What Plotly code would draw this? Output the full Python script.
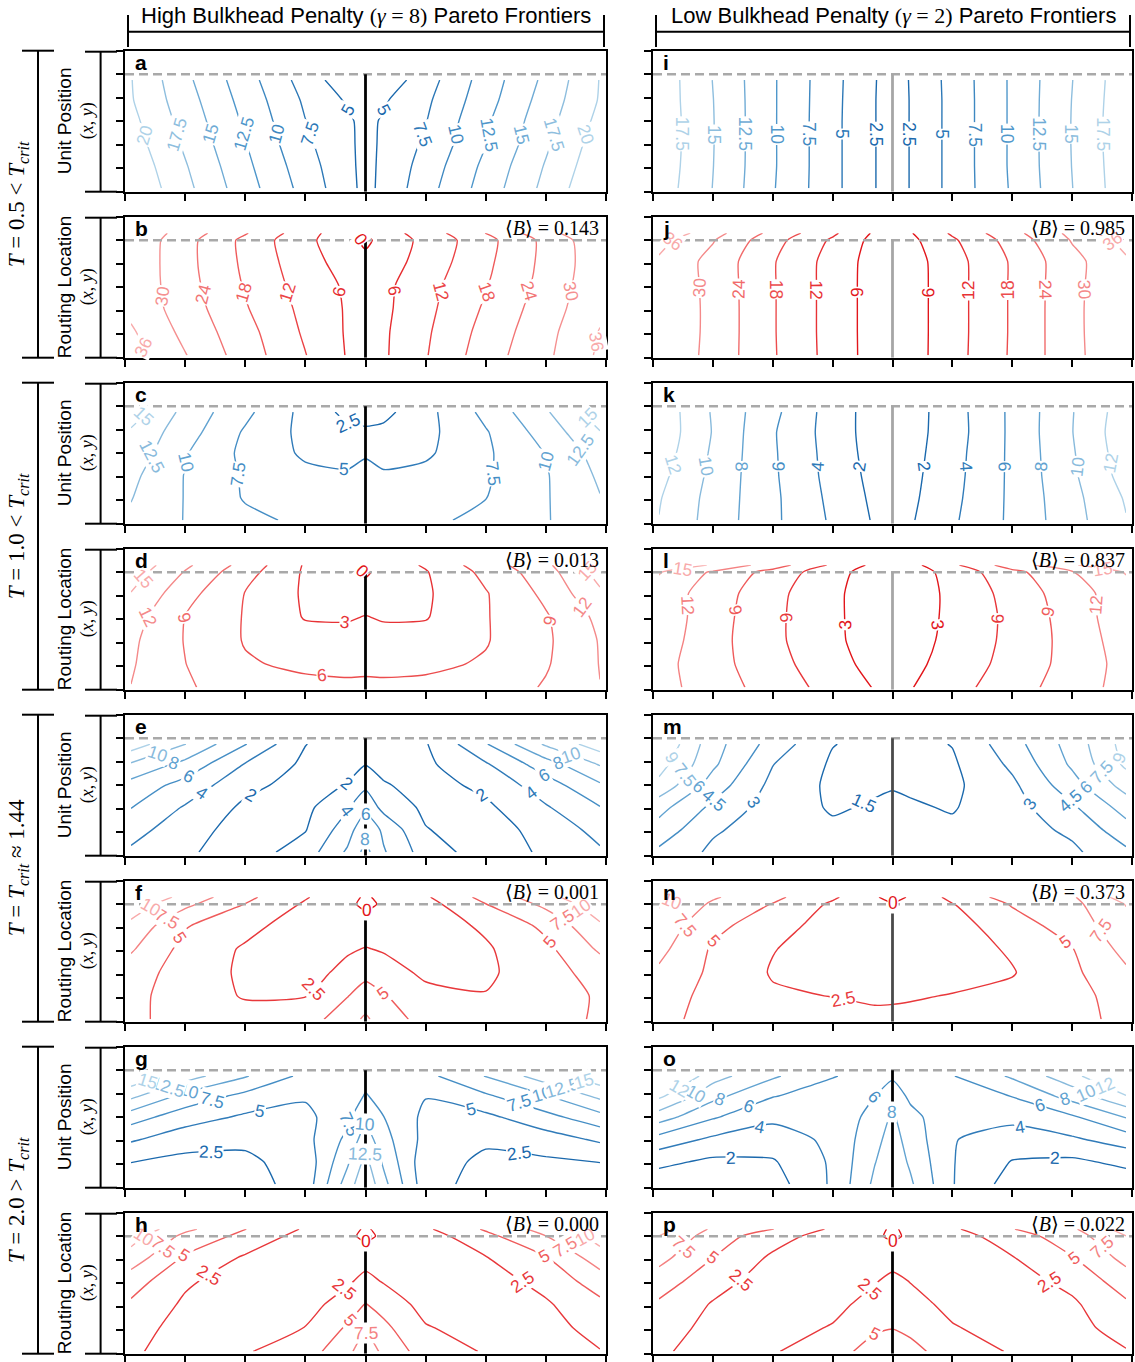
import math
import plotly.graph_objects as go

W, H = 1135, 1362

# ---------------- data ----------------
X = [-3.9, -3.0, -2.0, -1.0, -0.3, 0.0, 0.3, 1.0, 2.0, 3.0, 3.9]
Y_UNIT = [0.15, 1.1, 2.05, 3.0, 3.9, 4.75]
Y_ROUTE = [0.1, 1.1, 2.1, 3.1, 4.1, 5.0, 5.3]

Z_A = [[22.3, 18.2, 13.6, 9.1, 5.8, 4.3, 5.6, 9.0, 13.6, 18.2, 22.4],
       [21.8, 17.7, 13.1, 8.6, 5.6, 4.3, 5.5, 8.5, 13.1, 17.7, 21.8],
       [21.2, 17.1, 12.6, 8.0, 5.5, 4.3, 5.4, 7.9, 12.4, 17.1, 21.3],
       [20.7, 16.6, 12.1, 7.55, 5.4, 4.3, 5.3, 7.4, 12.1, 16.6, 20.7],
       [20.2, 16.1, 11.6, 7.1, 4.7, 4.0, 4.7, 7.0, 11.5, 16.1, 20.2],
       [20.1, 15.6, 11.1, 6.4, 3.4, 3.2, 3.3, 6.4, 11.1, 15.6, 20.1]]
Z_B = [[38.5, 30.3, 21.1, 12.2, 5.6, 3.0, 5.2, 11.6, 21.2, 28.8, 37.0],
       [36.8, 28.4, 20.1, 11.1, 5.4, 3.0, 5.1, 11.1, 20.1, 28.1, 36.3],
       [34.5, 27.1, 18.5, 10.3, 5.4, 3.0, 4.7, 10.4, 18.8, 27.1, 34.7],
       [34.5, 26.3, 17.5, 9.3, 5.1, 3.0, 4.5, 9.8, 17.6, 26.1, 34.1],
       [34.7, 25.9, 16.8, 8.2, 3.6, 2.0, 3.1, 8.3, 16.7, 25.6, 33.7],
       [34.8, 26.1, 16.5, 7.3, 2.5, -1.5, 2.5, 7.5, 16.1, 25.6, 34.4],
       [35.5, 27.3, 18.5, 8.4, 2.1, 1.0, 3.2, 8.8, 18.1, 28.1, 35.5]]
Z_C = [[12.1, 9.9, 8.1, 7.0, 6.4, 6.6, 6.4, 7.0, 8.1, 9.8, 12.1],
       [12.6, 9.9, 7.3, 6.5, 5.9, 6.2, 5.9, 6.5, 7.45, 9.8, 12.4],
       [13.1, 9.9, 7.2, 5.6, 5.3, 5.6, 5.3, 5.7, 7.2, 9.8, 12.9],
       [14.1, 10.2, 6.9, 4.6, 4.2, 4.8, 4.2, 4.6, 7.1, 10.1, 13.6],
       [14.6, 11.1, 7.2, 4.3, 3.1, 2.9, 3.1, 4.3, 7.3, 11.1, 14.9],
       [16.5, 11.7, 8.1, 4.2, 1.8, 1.5, 1.8, 4.2, 8.2, 12.2, 16.5]]
Z_D = [[11.95, 9.45, 7.1, 6.8, 6.5, 6.6, 6.5, 6.7, 7.1, 9.3, 11.95],
       [12.3, 9.05, 6.3, 5.4, 5.3, 5.3, 5.3, 5.4, 6.3, 8.7, 12.1],
       [12.6, 8.85, 5.8, 4.1, 4.1, 4.2, 4.1, 4.1, 5.8, 8.5, 12.2],
       [13.4, 8.95, 5.8, 2.8, 2.7, 3.1, 2.7, 2.8, 5.8, 8.7, 12.8],
       [14.9, 10.1, 5.9, 2.6, 1.5, 1.5, 1.5, 2.6, 5.8, 9.7, 14.5],
       [16.5, 11.8, 7.1, 2.6, 1.2, -0.5, 1.2, 2.8, 6.8, 10.7, 16.2],
       [17.1, 12.6, 7.9, 2.7, 1.5, 0.8, 1.5, 3.3, 7.6, 11.3, 17.1]]
Z_E = [[3.7, 2.3, 1.0, 2.95, 6.3, 8.6, 6.2, 3.05, 1.0, 2.3, 3.75],
       [4.7, 2.9, 1.1, 1.9, 5.1, 7.6, 5.6, 2.1, 1.0, 2.8, 4.6],
       [6.05, 3.8, 1.6, 1.5, 3.8, 5.4, 3.4, 1.6, 1.6, 3.8, 5.9],
       [7.25, 5.3, 2.55, 1.2, 2.1, 3.6, 2.2, 1.2, 2.5, 5.1, 7.7],
       [9.8, 7.4, 3.9, 1.6, 1.3, 1.9, 1.3, 1.6, 3.8, 7.1, 10.2],
       [13.1, 10.05, 6.1, 2.05, 1.0, 1.0, 1.0, 1.85, 5.85, 10.3, 13.1]]
Z_F = [[5.5, 4.1, 3.5, 3.8, 6.5, 7.9, 6.3, 4.1, 3.6, 4.1, 5.3],
       [5.7, 3.8, 2.3, 2.4, 4.9, 6.1, 5.2, 3.1, 2.6, 3.8, 5.3],
       [6.3, 3.8, 2.1, 1.5, 3.2, 4.3, 3.4, 2.1, 2.1, 3.9, 6.1],
       [7.8, 4.2, 2.2, 1.2, 2.2, 2.6, 2.3, 1.5, 2.2, 4.4, 7.9],
       [9.4, 5.2, 3.3, 1.2, 1.5, 1.2, 1.5, 1.3, 2.9, 5.6, 9.7],
       [11.5, 8.1, 4.95, 2.2, 0.5, -0.5, 0.3, 1.6, 4.95, 8.1, 11.5],
       [12.5, 9.2, 5.6, 2.7, 0.8, -0.3, 0.6, 2.2, 5.8, 9.1, 12.5]]
Z_G = [[1.2, 1.3, 1.5, 3.5, 11.2, 14.5, 10.8, 3.5, 1.5, 1.3, 1.2],
       [2.55, 1.8, 2.1, 3.4, 9.6, 13.2, 9.6, 3.4, 2.1, 2.1, 2.55],
       [5.3, 3.6, 2.9, 4.2, 8.1, 11.3, 8.4, 4.2, 2.8, 3.8, 5.4],
       [8.6, 6.1, 4.6, 4.3, 6.9, 9.45, 7.55, 4.4, 4.4, 6.7, 9.1],
       [13.1, 9.2, 6.8, 5.3, 6.1, 7.7, 6.6, 5.1, 7.1, 9.8, 13.1],
       [17.0, 13.7, 10.2, 6.8, 5.8, 6.6, 6.1, 6.8, 10.1, 13.9, 16.6]]
Z_H = [[2.9, 1.3, 2.3, 3.8, 6.8, 9.1, 6.9, 3.8, 2.3, 1.3, 2.4],
       [3.6, 1.5, 1.4, 2.55, 5.3, 7.1, 5.6, 2.7, 1.4, 1.6, 3.4],
       [4.6, 2.1, 1.1, 1.5, 3.7, 5.1, 4.1, 1.6, 1.1, 2.2, 4.4],
       [6.2, 2.9, 1.2, 1.1, 2.1, 3.2, 2.3, 1.1, 1.4, 3.3, 6.3],
       [8.9, 4.7, 2.2, 0.8, 1.2, 1.5, 1.2, 0.8, 2.4, 4.9, 8.8],
       [11.1, 6.8, 4.3, 1.5, 0.5, -0.5, 0.4, 1.3, 4.3, 7.45, 11.1],
       [12.1, 8.1, 5.05, 2.2, 0.6, -0.2, 0.5, 2.1, 5.3, 8.5, 12.1]]
Z_I = [[18.9, 14.95, 10.2, 5.7, 2.6, 1.3, 2.6, 5.8, 10.3, 14.95, 19.1],
       [19.1, 15.05, 10.3, 5.7, 2.6, 1.3, 2.6, 5.8, 10.4, 15.05, 19.2],
       [19.2, 15.1, 10.3, 5.7, 2.6, 1.3, 2.6, 5.8, 10.4, 15.1, 19.3],
       [19.2, 15.1, 10.3, 5.7, 2.6, 1.3, 2.6, 5.8, 10.4, 15.1, 19.3],
       [19.1, 15.05, 10.3, 5.75, 2.6, 1.3, 2.6, 5.8, 10.4, 15.05, 19.2],
       [19.1, 14.95, 10.3, 5.8, 2.65, 1.3, 2.65, 5.85, 10.4, 14.95, 19.1]]
Z_J = [[35.3, 28.1, 18.6, 9.7, 3.5, 1.5, 3.4, 9.6, 18.8, 28.3, 35.3],
       [35.5, 28.3, 18.5, 9.6, 3.5, 1.5, 3.4, 9.5, 18.7, 28.4, 35.5],
       [35.6, 28.3, 18.5, 9.6, 3.5, 1.5, 3.4, 9.5, 18.7, 28.4, 35.6],
       [35.4, 28.2, 18.5, 9.6, 3.5, 1.5, 3.4, 9.5, 18.7, 28.3, 35.4],
       [35.1, 28.1, 18.5, 9.7, 3.6, 1.5, 3.5, 9.6, 18.7, 28.2, 35.1],
       [38.1, 30.4, 20.2, 11.1, 4.3, 1.5, 4.6, 11.1, 20.4, 30.4, 38.1],
       [41.1, 32.3, 22.3, 13.1, 5.2, 2.5, 5.6, 12.8, 22.1, 31.6, 41.7]]
Z_K = [[11.95, 9.2, 6.4, 3.7, 1.8, 0.6, 1.8, 3.7, 6.4, 9.25, 11.9],
       [12.15, 9.3, 6.4, 3.5, 1.6, 0.6, 1.6, 3.5, 6.4, 9.4, 12.2],
       [12.6, 9.5, 6.3, 3.3, 1.4, 0.6, 1.45, 3.35, 6.4, 9.65, 12.8],
       [13.1, 9.7, 6.25, 3.2, 1.2, 0.6, 1.3, 3.25, 6.4, 9.8, 13.1],
       [13.4, 9.9, 6.2, 3.1, 1.1, 0.6, 1.2, 3.1, 6.4, 9.95, 13.3],
       [13.4, 9.8, 6.5, 3.1, 1.1, 0.6, 1.1, 3.15, 6.4, 9.9, 13.1]]
Z_L = [[13.1, 10.5, 7.7, 4.9, 2.85, 2.1, 2.85, 4.9, 7.7, 10.5, 13.1],
       [13.05, 10.1, 7.1, 4.1, 2.05, 1.2, 2.2, 4.2, 7.05, 10.1, 13.05],
       [13.6, 10.1, 6.7, 3.65, 1.6, 0.8, 1.8, 3.8, 6.8, 10.1, 13.5],
       [13.9, 10.3, 6.7, 3.6, 1.5, 0.7, 1.6, 3.65, 6.75, 10.35, 13.9],
       [13.7, 10.6, 6.9, 3.6, 1.5, 0.7, 1.5, 3.65, 7.1, 10.7, 13.7],
       [15.2, 11.6, 7.9, 4.1, 1.6, 0.7, 1.5, 4.1, 8.1, 11.8, 15.2],
       [18.1, 14.6, 10.5, 5.5, 2.3, 1.1, 2.1, 5.4, 10.5, 14.6, 18.1]]
Z_M = [[4.2, 2.7, 2.2, 1.95, 1.95, 2.1, 1.95, 1.95, 2.2, 2.7, 4.2],
       [5.4, 3.2, 2.2, 1.75, 1.8, 2.1, 1.8, 1.75, 2.3, 3.3, 5.4],
       [6.5, 4.15, 2.3, 1.35, 1.65, 1.8, 1.65, 1.4, 2.4, 4.25, 6.6],
       [8.6, 5.3, 2.6, 1.2, 1.3, 1.4, 1.3, 1.2, 2.7, 5.4, 8.1],
       [9.6, 6.3, 3.05, 1.3, 1.1, 1.1, 1.1, 1.3, 3.3, 6.25, 9.3],
       [10.5, 6.6, 3.9, 1.55, 1.1, 1.1, 1.1, 1.55, 3.9, 6.6, 9.6]]
Z_N = [[5.6, 4.3, 3.8, 3.6, 3.1, 3.2, 3.1, 3.6, 3.8, 4.3, 5.6],
       [6.1, 4.3, 2.8, 2.45, 2.1, 2.1, 2.3, 2.6, 3.1, 4.3, 5.9],
       [7.1, 4.5, 2.3, 1.7, 1.5, 1.5, 1.5, 1.7, 2.35, 4.5, 7.1],
       [8.2, 4.7, 2.6, 1.4, 1.2, 1.2, 1.2, 1.4, 2.8, 4.9, 8.3],
       [9.1, 5.7, 3.6, 1.4, 1.1, 0.9, 1.1, 1.5, 3.9, 6.1, 9.2],
       [10.2, 7.1, 4.9, 2.1, 0.7, 0.3, 0.7, 2.4, 5.2, 6.8, 10.1],
       [11.5, 7.8, 5.6, 2.9, 0.4, -1.2, 0.4, 3.2, 6.1, 7.2, 11.2]]
Z_O = [[0.8, 1.1, 1.1, 4.3, 8.4, 9.5, 8.3, 4.1, 1.1, 1.1, 0.8],
       [2.5, 1.6, 1.8, 4.3, 7.9, 9.2, 7.7, 4.1, 1.9, 1.6, 2.5],
       [5.2, 3.6, 3.1, 4.4, 7.4, 8.8, 7.2, 4.1, 3.1, 3.7, 4.9],
       [8.9, 6.2, 4.4, 4.6, 6.7, 8.3, 6.6, 4.6, 4.5, 5.7, 8.1],
       [12.4, 8.6, 6.1, 5.1, 5.95, 7.1, 5.6, 5.2, 6.05, 8.8, 11.9],
       [15.5, 10.8, 8.3, 6.1, 5.3, 5.7, 5.1, 5.9, 8.3, 11.3, 15.1]]
Z_P = [[2.9, 1.4, 2.3, 3.9, 6.1, 6.8, 5.8, 3.7, 2.3, 1.4, 2.35],
       [3.6, 1.8, 1.4, 2.7, 4.6, 4.9, 4.4, 2.7, 1.4, 1.7, 3.5],
       [4.6, 2.3, 1.1, 1.7, 3.5, 3.9, 3.4, 1.8, 1.1, 2.1, 4.6],
       [6.3, 3.5, 1.3, 1.1, 2.3, 3.1, 2.4, 1.1, 1.5, 3.2, 6.3],
       [8.3, 5.05, 2.1, 0.8, 1.2, 1.5, 1.2, 0.8, 2.4, 4.9, 8.3],
       [9.95, 6.3, 3.6, 1.3, 0.4, -0.4, 0.4, 1.3, 3.9, 6.3, 9.95],
       [11.1, 7.1, 5.05, 2.1, 0.6, -0.3, 0.6, 2.1, 4.9, 7.1, 11.1]]

# contour levels per panel: (start, end, step)
LEVELS = {
    'a': (5, 20, 2.5), 'b': (0, 36, 6), 'c': (2.5, 15, 2.5), 'd': (0, 15, 3),
    'e': (2, 12, 2), 'f': (0, 10, 2.5), 'g': (2.5, 15, 2.5), 'h': (0, 10, 2.5),
    'i': (2.5, 17.5, 2.5), 'j': (6, 36, 6), 'k': (2, 12, 2), 'l': (3, 15, 3),
    'm': (1.5, 9, 1.5), 'n': (0, 10, 2.5), 'o': (2, 12, 2), 'p': (0, 10, 2.5),
}

B_LEFT = ["0.143", "0.013", "0.001", "0.000"]
B_RIGHT = ["0.985", "0.837", "0.373", "0.022"]

HEADERS = ["High Bulkhead Penalty <span style='font-family:Liberation Serif'>(<i>γ</i> = 8)</span> Pareto Frontiers",
           "Low Bulkhead Penalty <span style='font-family:Liberation Serif'>(<i>γ</i> = 2)</span> Pareto Frontiers"]
GROUP_LABELS = ["<i>T</i> = 0.5 &lt; <i>T<sub>crit</sub></i>",
                "<i>T</i> = 1.0 &lt; <i>T<sub>crit</sub></i>",
                "<i>T</i> = <i>T<sub>crit</sub></i> ≈ 1.44",
                "<i>T</i> = 2.0 &gt; <i>T<sub>crit</sub></i>"]
ROW_LABELS = {"unit": "Unit Position", "route": "Routing Location"}

PANELS = [  # letter, column, row, field, kind
    ('a', 0, 0, Z_A, 'unit'), ('b', 0, 1, Z_B, 'route'),
    ('c', 0, 2, Z_C, 'unit'), ('d', 0, 3, Z_D, 'route'),
    ('e', 0, 4, Z_E, 'unit'), ('f', 0, 5, Z_F, 'route'),
    ('g', 0, 6, Z_G, 'unit'), ('h', 0, 7, Z_H, 'route'),
    ('i', 1, 0, Z_I, 'unit'), ('j', 1, 1, Z_J, 'route'),
    ('k', 1, 2, Z_K, 'unit'), ('l', 1, 3, Z_L, 'route'),
    ('m', 1, 4, Z_M, 'unit'), ('n', 1, 5, Z_N, 'route'),
    ('o', 1, 6, Z_O, 'unit'), ('p', 1, 7, Z_P, 'route'),
]

# ---------------- styling / layout ----------------
BLUE_STOPS = [(0x1b, 0x69, 0xad), (0x4f, 0x97, 0xcb), (0xae, 0xd2, 0xe8)]
RED_STOPS = [(0xe2, 0x16, 0x1b), (0xef, 0x5b, 0x5b), (0xf8, 0xaa, 0xaa)]
CENTER_RIGHT = ["#a6a6a6", "#a6a6a6", "#a6a6a6", "#a6a6a6", "#4a4a4a", "#4a4a4a", "#000000", "#000000"]

SANS = "Liberation Sans, Arial, sans-serif"
SERIF = "Liberation Serif, DejaVu Serif, serif"

COL_PX = [(125, 606), (653, 1132)]
ROW_TOP0, ROW_PITCH, ROW_H = 50.7, 166, 141
SX, SY = 481 / 8.0, ROW_H / 6.0   # pixels per data unit
LABEL_SIZE = 17.5
LABEL_FRACTIONS = [0.5, 0.4, 0.6, 0.32, 0.68, 0.25, 0.75]


def fx(px):
    return px / W


def fy(py):
    return 1 - py / H


def ramp(stops, t):
    t = min(max(t, 0.0), 1.0)
    seg = 0 if t <= 0.5 else 1
    u = t / 0.5 if seg == 0 else (t - 0.5) / 0.5
    a, b = stops[seg], stops[seg + 1]
    return "rgb(%d,%d,%d)" % tuple(round(a[i] + (b[i] - a[i]) * u) for i in range(3))


def contour_paths(xs, ys, z, lv):
    """Marching squares on the grid (same linear edge interpolation as the contour trace)."""
    def pt(node):
        kind, i, j = node
        if kind == 'h':
            za, zb = z[j][i], z[j][i + 1]
            t = (lv - za) / (zb - za)
            return (xs[i] + t * (xs[i + 1] - xs[i]), ys[j])
        za, zb = z[j][i], z[j + 1][i]
        t = (lv - za) / (zb - za)
        return (xs[i], ys[j] + t * (ys[j + 1] - ys[j]))

    adj = {}

    def link(a, b):
        adj.setdefault(a, []).append(b)
        adj.setdefault(b, []).append(a)

    for j in range(len(ys) - 1):
        for i in range(len(xs) - 1):
            c = [z[j][i], z[j][i + 1], z[j + 1][i + 1], z[j + 1][i]]
            ab = [v >= lv for v in c]
            edges = [('h', i, j), ('v', i + 1, j), ('h', i, j + 1), ('v', i, j)]
            crossed = [k for k in range(4) if ab[k] != ab[(k + 1) % 4]]
            if len(crossed) == 2:
                link(edges[crossed[0]], edges[crossed[1]])
            elif len(crossed) == 4:
                if (sum(c) / 4 >= lv) == ab[0]:
                    link(edges[0], edges[1])
                    link(edges[2], edges[3])
                else:
                    link(edges[3], edges[0])
                    link(edges[1], edges[2])
    paths, seen = [], set()
    for s in [n for n in adj if len(adj[n]) == 1] + list(adj):
        if s in seen:
            continue
        path, prev, cur = [s], None, s
        seen.add(s)
        while True:
            nxt = [m for m in adj[cur] if m != prev and m not in seen]
            if not nxt:
                break
            prev, cur = cur, nxt[0]
            path.append(cur)
            seen.add(cur)
        paths.append([pt(n) for n in path])
    return paths


def point_at(pp, cum, s):
    for k in range(1, len(pp)):
        if cum[k] >= s:
            seg = cum[k] - cum[k - 1]
            f = 0 if seg == 0 else (s - cum[k - 1]) / seg
            return (pp[k - 1][0] + f * (pp[k][0] - pp[k - 1][0]),
                    pp[k - 1][1] + f * (pp[k][1] - pp[k - 1][1]))
    return pp[-1]


def label_spot(path, text):
    pp = [(x * SX, -y * SY) for x, y in path]
    cum = [0.0]
    for k in range(1, len(pp)):
        cum.append(cum[-1] + math.hypot(pp[k][0] - pp[k - 1][0], pp[k][1] - pp[k - 1][1]))
    total = cum[-1]
    width = len(text) * 0.55 * LABEL_SIZE
    if total < max(18.0, 1.2 * width):
        return None
    chosen = None
    for frac in LABEL_FRACTIONS:
        px, py = point_at(pp, cum, total * frac)
        dx, dy = px / SX, -py / SY
        if abs(dx) >= 0.25 and -3.7 <= dx <= 3.7 and 0.3 <= dy <= 5.7:
            chosen = total * frac
            break
    if chosen is None:
        chosen = total / 2
    px, py = point_at(pp, cum, chosen)
    a0 = point_at(pp, cum, max(0.0, chosen - 9))
    a1 = point_at(pp, cum, min(total, chosen + 9))
    ang = -math.degrees(math.atan2(a1[1] - a0[1], a1[0] - a0[0]))
    if ang > 90:
        ang -= 180
    if ang <= -90:
        ang += 180
    return px / SX, -py / SY, ang


fig = go.Figure()
layout = dict(width=W, height=H, margin=dict(l=0, r=0, t=0, b=0),
              paper_bgcolor="white", plot_bgcolor="white", showlegend=False,
              font=dict(family=SANS, size=15, color="black"))
shapes, annotations, labels = [], [], []


def line(x0, y0, x1, y1, w=2, color="black"):
    shapes.append(dict(type="line", xref="paper", yref="paper",
                       x0=fx(x0), y0=fy(y0), x1=fx(x1), y1=fy(y1),
                       line=dict(color=color, width=w)))


for n, (letter, col, row, z, kind) in enumerate(PANELS, start=1):
    sfx = "" if n == 1 else str(n)
    xa, ya = "x" + sfx, "y" + sfx
    x0, x1 = COL_PX[col]
    top = ROW_TOP0 + ROW_PITCH * row
    bot = top + ROW_H
    axis_common = dict(ticks="outside", ticklen=7, tickwidth=1.5, tickcolor="black",
                       showticklabels=False, showline=True, linecolor="black", linewidth=2,
                       mirror=True, showgrid=False, zeroline=False, fixedrange=True)
    layout["xaxis" + sfx] = dict(domain=[fx(x0), fx(x1)], range=[-4, 4], anchor=ya,
                                 tickvals=list(range(-4, 5)), **axis_common)
    layout["yaxis" + sfx] = dict(domain=[fy(bot), fy(top)], range=[0, 6], anchor=xa,
                                 tickvals=list(range(0, 7)), **axis_common)
    start, end, step = LEVELS[letter]
    stops = BLUE_STOPS if kind == "unit" else RED_STOPS
    ys = Y_UNIT if kind == "unit" else Y_ROUTE
    nlev = int(round((end - start) / step)) + 1
    cscale = [[k / (nlev - 1), ramp(stops, k / (nlev - 1))] for k in range(nlev)]
    fig.add_trace(go.Contour(
        x=X, y=ys, z=z, xaxis=xa, yaxis=ya, autocontour=False,
        contours=dict(start=start, end=end, size=step, coloring="lines", showlabels=False),
        colorscale=cscale, showscale=False,
        line=dict(width=1.4, smoothing=0.6), hoverinfo="skip"))
    # inline contour labels, placed on each contour path computed from the same grid
    for k in range(nlev):
        lv = start + k * step
        txt = "%g" % lv
        c = ramp(stops, k / (nlev - 1))
        for path in contour_paths(X, ys, z, lv):
            spot = label_spot(path, txt)
            if spot is None:
                continue
            lx, ly, ang = spot
            labels.append(dict(xref=xa, yref=ya, x=lx, y=ly, text=txt, textangle=ang,
                               showarrow=False, xanchor="center", yanchor="middle",
                               bgcolor="white", borderpad=0,
                               font=dict(family=SANS, size=LABEL_SIZE, color=c)))
    # dashed reference line and central divider
    shapes.append(dict(type="line", xref=xa, yref=ya, x0=-4, x1=4, y0=5, y1=5,
                       line=dict(color="#a9a9a9", width=2.5, dash="9px,5px")))
    ccol = "black" if col == 0 else CENTER_RIGHT[row]
    shapes.append(dict(type="line", xref=xa, yref=ya, x0=0, x1=0, y0=0, y1=5,
                       line=dict(color=ccol, width=2.8)))
    # panel letter
    annotations.append(dict(xref="paper", yref="paper", x=fx(x0 + 8), y=fy(top + 12),
                            xanchor="left", yanchor="middle", showarrow=False,
                            text="<b>%s</b>" % letter, font=dict(family=SANS, size=21)))
    if kind == "route":
        bval = (B_LEFT if col == 0 else B_RIGHT)[row // 2]
        annotations.append(dict(xref="paper", yref="paper", x=fx(x1 - 5), y=fy(top + 11),
                                xanchor="right", yanchor="middle", showarrow=False,
                                text="⟨<i>B</i>⟩ = %s" % bval,
                                font=dict(family=SERIF, size=20)))
    if col == 0:
        # per-panel y label bracket
        line(100.6, top + 1, 100.6, bot, w=2)
        line(85, top + 1, 117, top + 1, w=2)
        line(85, bot, 117, bot, w=2)
        cy = (top + bot) / 2
        annotations.append(dict(xref="paper", yref="paper", x=fx(64), y=fy(cy),
                                xanchor="center", yanchor="middle", showarrow=False,
                                textangle=-90, text=ROW_LABELS[kind],
                                font=dict(family=SANS, size=19)))
        annotations.append(dict(xref="paper", yref="paper", x=fx(87), y=fy(cy),
                                xanchor="center", yanchor="middle", showarrow=False,
                                textangle=-90, text="(<i>x</i>, <i>y</i>)",
                                font=dict(family=SERIF, size=18)))

# group brackets on the far left
for g, label in enumerate(GROUP_LABELS):
    gtop = ROW_TOP0 + ROW_PITCH * 2 * g
    gbot = gtop + ROW_PITCH + ROW_H
    line(38, gtop, 38, gbot, w=2)
    line(22, gtop, 54, gtop, w=2)
    line(22, gbot, 54, gbot, w=2)
    annotations.append(dict(xref="paper", yref="paper", x=fx(18), y=fy((gtop + gbot) / 2),
                            xanchor="center", yanchor="middle", showarrow=False,
                            textangle=-90, text=label, font=dict(family=SERIF, size=23)))

# column header brackets
for (hx0, hx1), text in zip([(128, 604), (656, 1130)], HEADERS):
    line(hx0, 31.7, hx1, 31.7, w=2)
    line(hx0, 15, hx0, 47, w=2)
    line(hx1, 15, hx1, 47, w=2)
    annotations.append(dict(xref="paper", yref="paper", x=fx((hx0 + hx1) / 2), y=fy(16),
                            xanchor="center", yanchor="middle", showarrow=False,
                            text=text, font=dict(family=SANS, size=22),
                            bgcolor="white"))

layout["shapes"] = shapes
layout["annotations"] = labels + annotations
fig.update_layout(**layout)
fig.write_html("out.html")
